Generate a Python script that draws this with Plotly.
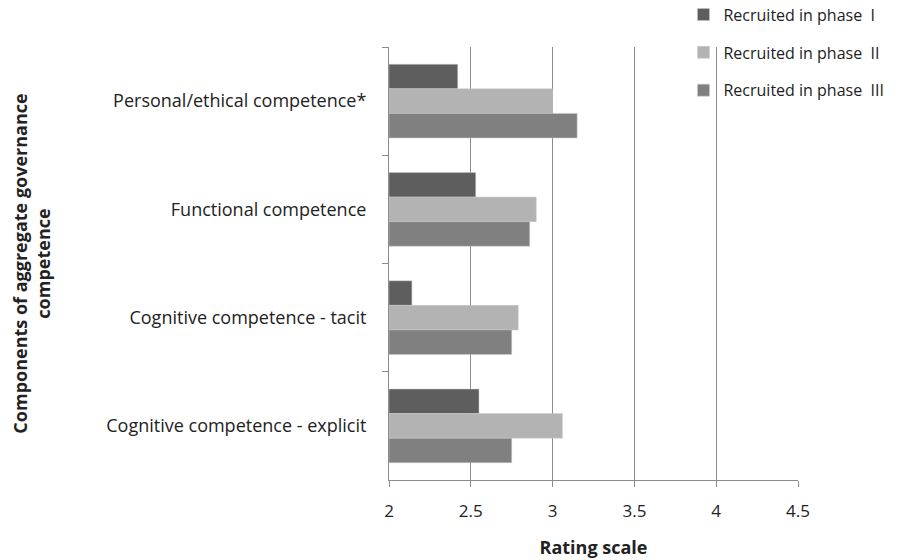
import plotly.graph_objects as go

categories = ["Personal/ethical competence*", "Functional competence",
              "Cognitive competence - tacit", "Cognitive competence - explicit"]
phase1 = [2.42, 2.53, 2.14, 2.55]
phase2 = [3.00, 2.90, 2.79, 3.06]
phase3 = [3.15, 2.86, 2.75, 2.75]
series_names = ["Recruited in phase  I", "Recruited in phase  II", "Recruited in phase  III"]
colors = ["#5e5e5e", "#b3b3b3", "#808080"]
x_ticks = [2, 2.5, 3, 3.5, 4, 4.5]

fig = go.Figure()
for i, (name, vals) in enumerate(zip(series_names, [phase1, phase2, phase3])):
    fig.add_trace(go.Bar(
        y=categories, x=[v - 2 for v in vals], base=2, orientation="h", name=name,
        marker=dict(color=colors[i], line=dict(color="#c8c8c8", width=0.5)),
        legendgroup=f"g{i}",
    ))

font_family = "Open Sans, Liberation Sans, sans-serif"
fig.update_layout(
    width=911, height=560,
    margin=dict(l=389, r=113, t=47, b=80, autoexpand=False),
    paper_bgcolor="white", plot_bgcolor="white",
    barmode="group", bargap=0.32, bargroupgap=0,
    font=dict(family=font_family, size=14, color="#222"),
    showlegend=True,
    legend=dict(x=0.72, y=1.114, xanchor="left", yanchor="top",
                bgcolor="rgba(255,255,255,0)", font=dict(size=16, color="#222"),
                tracegroupgap=14, itemwidth=30, traceorder="grouped"),
    xaxis=dict(range=[2, 4.5], tickvals=x_ticks, ticktext=[str(t) for t in x_ticks],
               showgrid=True, gridcolor="#8c8c8c", gridwidth=1,
               showline=True, linecolor="#8c8c8c", ticks="outside", ticklen=6,
               tickcolor="#8c8c8c", zeroline=False,
               tickfont=dict(size=17), ticklabelstandoff=10,
               title=dict(text="<b>Rating scale</b>", font=dict(size=18), standoff=19)),
    yaxis=dict(autorange="reversed", showline=True, linecolor="#8c8c8c",
               ticks="outside", ticklen=6, tickcolor="#8c8c8c", tickson="boundaries",
               showgrid=False, tickfont=dict(size=18), ticklabelstandoff=18,
               title=dict(text="<b>Components of aggregate governance<br>competence</b>",
                          font=dict(size=18), standoff=50)),
)
fig.write_html("out.html")
